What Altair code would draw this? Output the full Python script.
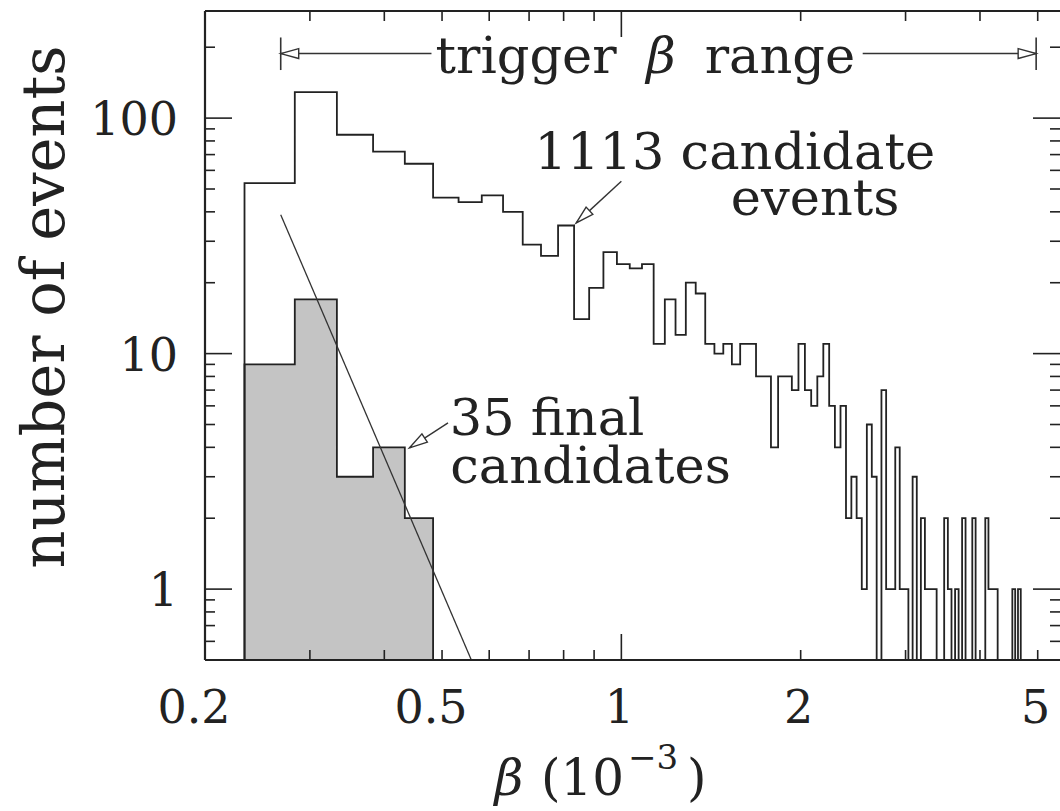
import altair as alt
import pandas as pd

# ---------------- data ----------------
bin_start = 0.233          # lower edge of first histogram bin (beta in 1e-3)
bin_width = 0.05

candidate_counts = [
    53, 129, 85, 72, 64, 46, 44, 47, 40, 29, 26, 35, 14, 19, 27, 24, 23, 24, 11, 17,
    12, 20, 18, 11, 10, 11, 9, 11, 11, 8,
    8, 4, 8, 8, 7, 11, 7, 6, 8, 11, 6, 4, 6, 2, 3, 2, 1, 5, 3, 0,
    7, 1, 1, 4, 1, 1, 0, 3, 0, 2,
    1, 1, 1, 0, 0, 2, 1, 0, 1, 0, 2, 0, 0, 2, 0, 0, 0, 2, 1, 1,
    1, 0, 0, 0, 0, 0, 1, 0, 1, 0,
    0, 0, 0, 0, 0, 0,
]
final_counts = [9, 17, 3, 4, 2]

fit_beta = [0.268, 0.56]
fit_count = [38.9, 0.5]

trigger_range = [0.268, 4.97]
trigger_level = 188
trigger_text_gap = [0.480, 2.542]

x_decimal_labels = [0.2, 0.5]
x_integer_labels = [1, 2, 5]
y_tick_labels = [1, 10, 100]
x_minor_ticks = [0.3, 0.4, 0.5, 0.6, 0.7, 0.8, 0.9, 2, 3, 4, 5]
x_major_ticks = [1]
y_minor_ticks = [0.6, 0.7, 0.8, 0.9, 2, 3, 4, 5, 6, 7, 8, 9,
                 20, 30, 40, 50, 60, 70, 80, 90, 200]
y_major_ticks = [1, 10, 100]

# annotation anchor points (data units)
ann_left_text = ["1113 candidate", "35 final", "candidates"]
ann_left_beta = [0.715, 0.515, 0.516]
ann_left_count = [60.9, 4.53, 2.825]

# arrows: tail -> tip
arrow_tail_beta = [1.0, 0.5117]
arrow_tail_count = [53.9, 5.08]
arrow_tip_beta = [0.840, 0.441]
arrow_tip_count = [35.9, 3.98]

# ---------------- layout ----------------
W, H = 855, 649
FLOOR = 0.3   # zero-count bins drawn below the visible range
INK = "#222222"
FONT = "DejaVu Serif"

xs = alt.Scale(type="log", domain=[0.2, 5.45], nice=False)
ys = alt.Scale(type="log", domain=[0.5, 285], nice=False)


def X(f):
    return alt.X(f, type="quantitative", scale=xs, axis=None)


def Y(f):
    return alt.Y(f, type="quantitative", scale=ys, axis=None)


def step_frame(counts):
    edges = [bin_start + bin_width * k for k in range(len(counts) + 1)]
    shown = [c if c > 0 else FLOOR for c in counts]
    bx = [edges[0]] + edges[:-1] + [edges[-1]]
    by = [FLOOR] + shown + [FLOOR]
    return pd.DataFrame({"beta": bx, "count": by, "i": list(range(len(bx)))})


cand_df = step_frame(candidate_counts)
final_df = step_frame(final_counts)
f_edges = [bin_start + bin_width * k for k in range(len(final_counts) + 1)]
final_area_df = pd.DataFrame({
    "beta": f_edges,
    "count": final_counts + [final_counts[-1]],
    "base": [0.5] * len(f_edges),
})

fit_df = pd.DataFrame({"beta": fit_beta, "count": fit_count, "i": [0, 1]})

area_final = alt.Chart(final_area_df).mark_area(
    interpolate="step-after", color="#c4c4c4", opacity=1
).encode(x=X("beta"), y=Y("count"), y2=alt.Y2("base"))

line_final = alt.Chart(final_df).mark_line(
    interpolate="step-after", color=INK, strokeWidth=1.8, clip=True
).encode(x=X("beta"), y=Y("count"), order="i:Q")

line_cand = alt.Chart(cand_df).mark_line(
    interpolate="step-after", color=INK, strokeWidth=1.8, clip=True
).encode(x=X("beta"), y=Y("count"), order="i:Q")

fit_line = alt.Chart(fit_df).mark_line(color="#333333", strokeWidth=1.3, clip=True).encode(
    x=X("beta"), y=Y("count"), order="i:Q")

seg_df = pd.DataFrame({
    "b0": [trigger_range[0], trigger_text_gap[1]] + arrow_tail_beta,
    "b1": [trigger_text_gap[0], trigger_range[1]] + arrow_tip_beta,
    "c0": [trigger_level, trigger_level] + arrow_tail_count,
    "c1": [trigger_level, trigger_level] + arrow_tip_count,
})
segments = alt.Chart(seg_df).mark_rule(color="#333333", strokeWidth=1.4).encode(
    x=X("b0"), x2="b1", y=Y("c0"), y2="c1")

bar_df = pd.DataFrame({"beta": trigger_range, "top": [220, 220], "bot": [160, 160]})
end_bars = alt.Chart(bar_df).mark_rule(color="#333333", strokeWidth=1.6).encode(
    x=X("beta"), y=Y("top"), y2="bot")

head_df = pd.DataFrame({
    "beta": trigger_range + arrow_tip_beta,
    "count": [trigger_level, trigger_level] + arrow_tip_count,
    "ang": [0, 180, 317.25, 326.9],
})
heads = alt.Chart(head_df).mark_point(
    shape="M0,0L2,-0.55L2,0.55Z", size=324, filled=True, fill="white",
    stroke="#333333", strokeWidth=1.4, opacity=1
).encode(x=X("beta"), y=Y("count"), angle=alt.Angle("ang:Q", scale=None))

ann_left_df = pd.DataFrame({"beta": ann_left_beta, "count": ann_left_count,
                            "t": ann_left_text})
ann_left = alt.Chart(ann_left_df).mark_text(
    align="left", baseline="alphabetic", font=FONT, fontSize=51, color=INK
).encode(x=X("beta"), y=Y("count"), text="t:N")

ann_events = alt.Chart(pd.DataFrame({"beta": [2.115], "count": [38.9], "t": ["events"]})).mark_text(
    align="center", baseline="alphabetic", font=FONT, fontSize=51, color=INK
).encode(x=X("beta"), y=Y("count"), text="t:N")

ann_trigger = alt.Chart(pd.DataFrame({"beta": [0.982], "count": [156], "t": ["trigger"]})).mark_text(
    align="right", baseline="alphabetic", font=FONT, fontSize=51, color=INK
).encode(x=X("beta"), y=Y("count"), text="t:N")

ann_beta = alt.Chart(pd.DataFrame({"beta": [1.165], "count": [156], "t": ["β"]})).mark_text(
    align="center", baseline="alphabetic", font=FONT, fontSize=51, fontStyle="italic", color=INK
).encode(x=X("beta"), y=Y("count"), text="t:N")

ann_range = alt.Chart(pd.DataFrame({"beta": [1.38], "count": [156], "t": ["range"]})).mark_text(
    align="left", baseline="alphabetic", font=FONT, fontSize=51, color=INK
).encode(x=X("beta"), y=Y("count"), text="t:N")

# tick labels (drawn as text marks placed through the scales)
xdec_df = pd.DataFrame({"beta": x_decimal_labels, "t": [f"{v:g}" for v in x_decimal_labels]})
x_labels_dec = alt.Chart(xdec_df).mark_text(
    align="center", baseline="alphabetic", font=FONT, fontSize=46, color=INK, dx=-11
).encode(x=X("beta"), y=alt.value(H + 63), text="t:N")
xint_df = pd.DataFrame({"beta": x_integer_labels, "t": [f"{v:g}" for v in x_integer_labels]})
x_labels_int = alt.Chart(xint_df).mark_text(
    align="center", baseline="alphabetic", font=FONT, fontSize=46, color=INK, dx=-2
).encode(x=X("beta"), y=alt.value(H + 63), text="t:N")

ylab_df = pd.DataFrame({"count": y_tick_labels, "t": [f"{v:g}" for v in y_tick_labels]})
y_labels = alt.Chart(ylab_df).mark_text(
    align="right", baseline="alphabetic", font=FONT, fontSize=46, color=INK, dy=17
).encode(y=Y("count"), x=alt.value(-27), text="t:N")

y_title = alt.Chart(pd.DataFrame({"t": ["number of events"]})).mark_text(
    align="center", baseline="alphabetic", font=FONT, fontSize=59, angle=270, color=INK
).encode(x=alt.value(-141), y=alt.value(296), text="t:N")


# ticks (drawn inward on all four sides)
def xticks(vals, length):
    d = pd.DataFrame({"beta": vals})
    bottom = alt.Chart(d).mark_rule(color=INK, strokeWidth=1.6).encode(
        x=X("beta"), y=alt.value(H), y2=alt.value(H - length))
    top = alt.Chart(d).mark_rule(color=INK, strokeWidth=1.6).encode(
        x=X("beta"), y=alt.value(0), y2=alt.value(length))
    return [bottom, top]


def yticks(vals, length):
    d = pd.DataFrame({"count": vals})
    left = alt.Chart(d).mark_rule(color=INK, strokeWidth=1.6).encode(
        y=Y("count"), x=alt.value(0), x2=alt.value(length))
    right = alt.Chart(d).mark_rule(color=INK, strokeWidth=1.6).encode(
        y=Y("count"), x=alt.value(W - length), x2=alt.value(W))
    return [left, right]


tick_layers = (xticks(x_minor_ticks, 10) + xticks(x_major_ticks, 26)
               + yticks(y_minor_ticks, 10) + yticks(y_major_ticks, 27))

one = pd.DataFrame({"k": [0]})
frame_left = alt.Chart(one).mark_rule(color=INK, strokeWidth=2.2).encode(
    x=alt.value(0), y=alt.value(0), y2=alt.value(H))
frame_bottom = alt.Chart(one).mark_rule(color=INK, strokeWidth=2.2).encode(
    y=alt.value(H), x=alt.value(0), x2=alt.value(W))
frame_top = alt.Chart(one).mark_rule(color=INK, strokeWidth=2.0).encode(
    y=alt.value(0), x=alt.value(0), x2=alt.value(W))

# x-axis title: italic beta, (10, superscript -3, )
xt_beta = alt.Chart(pd.DataFrame({"t": ["β"]})).mark_text(
    align="center", baseline="alphabetic", font=FONT, fontSize=50, fontStyle="italic", color=INK
).encode(x=alt.value(304), y=alt.value(784), text="t:N")
xt_open = alt.Chart(pd.DataFrame({"t": ["(10"]})).mark_text(
    align="left", baseline="alphabetic", font=FONT, fontSize=50, color=INK
).encode(x=alt.value(336), y=alt.value(784), text="t:N")
xt_sup = alt.Chart(pd.DataFrame({"t": ["−3"]})).mark_text(
    align="left", baseline="alphabetic", font=FONT, fontSize=34, color=INK
).encode(x=alt.value(423), y=alt.value(758), text="t:N")
xt_close = alt.Chart(pd.DataFrame({"t": [")"]})).mark_text(
    align="left", baseline="alphabetic", font=FONT, fontSize=50, color=INK
).encode(x=alt.value(482), y=alt.value(784), text="t:N")

chart = alt.layer(
    area_final, line_final, line_cand, fit_line, segments, end_bars, heads,
    ann_left, ann_events, ann_trigger, ann_beta, ann_range,
    x_labels_dec, x_labels_int, y_labels, y_title,
    *tick_layers, frame_left, frame_bottom, frame_top,
    xt_beta, xt_open, xt_sup, xt_close
).properties(
    width=W, height=H,
    padding={"left": 205, "top": 11, "right": 0, "bottom": 151},
    autosize=alt.AutoSizeParams(type="none"),
    background="white",
).configure_view(strokeOpacity=0)

chart.save("out.html", embed_options={"renderer": "svg", "actions": False})
